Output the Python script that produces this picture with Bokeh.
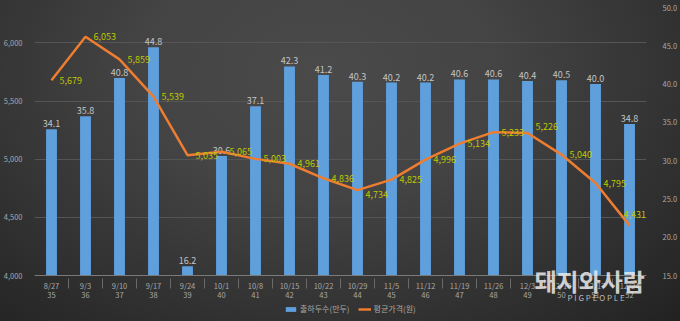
from bokeh.plotting import figure
from bokeh.models import (FactorRange, Range1d, LinearAxis, FixedTicker, NumeralTickFormatter,
                          Legend, LegendItem, Label, ColumnDataSource)
from bokeh.core.properties import value
from bokeh.embed import file_html
from bokeh.resources import INLINE

dates = ["8/27", "9/3", "9/10", "9/17", "9/24", "10/1", "10/8", "10/15", "10/22", "10/29",
         "11/5", "11/12", "11/19", "11/26", "12/3", "12/10", "12/17", "12/24"]
weeks = ["35", "36", "37", "38", "39", "40", "41", "42", "43", "44",
         "45", "46", "47", "48", "49", "50", "51", "52"]
heads = [34.1, 35.8, 40.8, 44.8, 16.2, 30.6, 37.1, 42.3, 41.2, 40.3,
         40.2, 40.2, 40.6, 40.6, 40.4, 40.5, 40.0, 34.8]
prices = [5679, 6053, 5859, 5539, 5035, 5065, 5003, 4961, 4836, 4734,
          4825, 4996, 5134, 5233, 5226, 5040, 4795, 4431]
price_ticks = [4000, 4500, 5000, 5500, 6000]
head_ticks = [15, 20, 25, 30, 35, 40, 45, 50]

FONT = "Noto Sans CJK KR"
factors = list(zip(weeks, dates))

# label nudges (screen px) for the price labels
n = len(prices)
lbl_dx = [8] * n
lbl_dy = [0] * n
lbl_dy[9] = -4       # 4,734 slightly below
lbl_dy[14] = 6       # 5,226 slightly above
lbl_dx[17] = -6
lbl_dy[17] = 11      # 4,431 above

src = ColumnDataSource(dict(
    x=factors, heads=heads, prices=prices,
    head_lbl=[f"{v:.1f}" for v in heads],
    price_lbl=[f"{v:,}" for v in prices],
    dx=lbl_dx, dy=[-d for d in lbl_dy],
))

# frame spans the full height below the top border; the value axes
# are positioned so that 4,000 / 15.0 sit 46 px above the bottom edge
H, TOP, AXIS_Y = 321, 7, 275
px_per_price = (AXIS_Y - TOP) / (6305 - 4000)
px_per_head = (AXIS_Y - TOP) / (50 - 15)
below_px = H - AXIS_Y
y_lo = 4000 - below_px / px_per_price
h_lo = 15 - below_px / px_per_head

p = figure(width=680, height=H, output_backend="svg", toolbar_location=None,
           x_range=FactorRange(*factors, group_padding=0, factor_padding=0, range_padding=0),
           y_range=Range1d(y_lo, 6305),
           min_border_left=28, min_border_right=24, min_border_top=TOP, min_border_bottom=0)
p.border_fill_color = None
p.background_fill_color = None
p.outline_line_color = None
p.styles = {"background": "radial-gradient(ellipse 75% 110% at 47% 22%, #4a4a4a 0%, #444444 35%, #323232 70%, #222222 100%)"}

p.extra_y_ranges = {"cnt": Range1d(h_lo, 50)}

p.xgrid.grid_line_color = None
p.ygrid.grid_line_color = "#555555"
p.ygrid.grid_line_width = 1

# bars (right axis)
bars = p.vbar(x="x", top="heads", bottom=15, width=0.32, source=src, y_range_name="cnt",
              fill_color="#5f9fdc", line_color=None)
p.text(x="x", y="heads", text="head_lbl", source=src, y_range_name="cnt",
       text_align="center", text_baseline="bottom", y_offset=-2,
       text_color="#c4c4c4", text_font=value(FONT), text_font_size="9px")

# line (left axis)
line = p.line(x="x", y="prices", source=src, line_color="#ed7d31", line_width=2.5)
p.text(x="x", y="prices", text="price_lbl", source=src,
       text_align="left", text_baseline="middle", x_offset="dx", y_offset="dy",
       text_color="#bfc800", text_font=value(FONT), text_font_size="9px")

# left axis
la = p.yaxis[0]
la.ticker = FixedTicker(ticks=price_ticks)
la.formatter = NumeralTickFormatter(format="0,0")
la.axis_line_color = None
la.major_tick_line_color = None
la.minor_tick_line_color = None
la.major_label_text_color = "#a8a8a8"
la.major_label_text_font = FONT
la.major_label_text_font_size = "7.5px"
la.major_label_standoff = 6

# right axis
ra = LinearAxis(y_range_name="cnt", ticker=FixedTicker(ticks=head_ticks),
                formatter=NumeralTickFormatter(format="0.0"))
ra.axis_line_color = None
ra.major_tick_line_color = None
ra.minor_tick_line_color = None
ra.major_label_text_color = "#a8a8a8"
ra.major_label_text_font = FONT
ra.major_label_text_font_size = "7.5px"
ra.major_label_standoff = 10
p.add_layout(ra, "right")

# x axis, fixed at 4,000 inside the frame
xa = p.xaxis[0]
xa.fixed_location = 4000
xa.axis_line_color = "#7a7a7a"
xa.major_tick_line_color = None
xa.minor_tick_line_color = None
xa.major_label_text_color = "#a8a8a8"
xa.major_label_text_font = FONT
xa.major_label_text_font_size = "7.5px"
xa.major_label_standoff = -2
xa.group_text_color = "#a8a8a8"
xa.group_text_font = FONT
xa.group_text_font_size = "7.5px"
xa.group_text_font_style = "normal"
xa.separator_line_color = "#6a6a6a"
xa.separator_line_width = 1

legend = Legend(items=[LegendItem(label="출하두수(만두)", renderers=[bars]),
                       LegendItem(label="평균가격(원)", renderers=[line])],
                orientation="horizontal", location=(250, 7),
                background_fill_alpha=0, border_line_color=None,
                label_text_color="#a8a8a8", label_text_font=FONT, label_text_font_size="8px",
                glyph_width=13, glyph_height=6, spacing=8, padding=2, margin=0,
                label_standoff=3, label_height=10)
p.add_layout(legend, "center")

# watermark
p.add_layout(Label(x=500, y=41, x_units="screen", y_units="screen", text="돼지와사람",
                   text_font=FONT, text_font_size="24px", text_font_style="bold",
                   text_color="#ececec", text_alpha=0.85, text_baseline="middle"))
p.add_layout(Label(x=533, y=24, x_units="screen", y_units="screen", text="P I G P E O P L E",
                   text_font=FONT, text_font_size="8px",
                   text_color="#d8d8d8", text_alpha=0.85, text_baseline="middle"))

open("out.html", "w").write(file_html(p, INLINE))
